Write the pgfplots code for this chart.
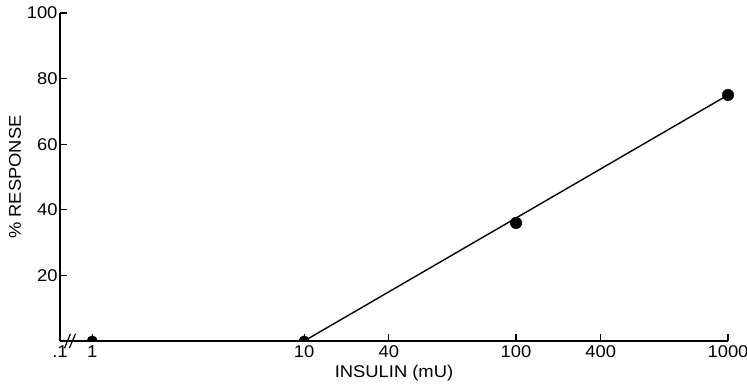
\documentclass[border=0pt]{standalone}
\usepackage{pgfplots}
\pgfplotsset{compat=1.18}
\usepackage{fontspec}
\setmainfont[FakeStretch=1.08]{Liberation Sans}
\pgfdeclareplotmark{halfdot}{%
  \pgfpathmoveto{\pgfqpoint{\pgfplotmarksize}{0pt}}%
  \pgfpatharc{0}{180}{\pgfplotmarksize}%
  \pgfpathclose\pgfusepathqfill}
\begin{document}
\begin{tikzpicture}
\begin{axis}[
  name=ax,
  scale only axis,
  width=668pt, height=328pt,
  xmode=log,
  xmin=0.705, xmax=1000,
  ymin=0, ymax=100,
  axis x line*=bottom, axis y line*=left,
  clip=false,
  tick align=inside,
  major tick length=7pt,
  xtick={0.705,1,10,25.1,100,251,1000},
  xticklabels={.1,1,10,40,100,400,1000},
  ytick={20,40,60,80,100},
  minor xtick={},
  log ticks with fixed point,
  every tick/.style={black, line width=1.2pt},
  axis line style={line width=1.4pt},
  tick label style={font=\fontsize{17}{19}\selectfont},
  xticklabel style={yshift=-1pt},
  yticklabel style={xshift=1pt},
  /pgf/number format/assume math mode=true,
  xlabel={INSULIN (mU)},
  ylabel={\% RESPONSE},
  xlabel style={font=\fontsize{17}{19}\selectfont, at={(axis description cs:0.5,-0.0976)}, anchor=center},
  ylabel style={font=\fontsize{17}{19}\selectfont, at={(axis description cs:-0.0674,0.5)}, anchor=center},
]
\addplot[black, line width=1.4pt, mark=none] coordinates {(10,0) (1000,75)};
\addplot[black, only marks, mark=*, mark size=5.8pt] coordinates {(100,36) (1000,75)};
\addplot[black, only marks, mark=halfdot, mark size=5.5pt] coordinates {(1,0) (10,0)};
\draw[line width=1.2pt] (axis cs:0.74,-2.2) -- (axis cs:0.79,2.2);
\draw[line width=1.2pt] (axis cs:0.78,-2.2) -- (axis cs:0.835,2.2);
\end{axis}
\pgfresetboundingbox
\path ([xshift=-60pt,yshift=-44pt]ax.south west) rectangle ([xshift=19pt,yshift=13pt]ax.north east);
\end{tikzpicture}
\end{document}
